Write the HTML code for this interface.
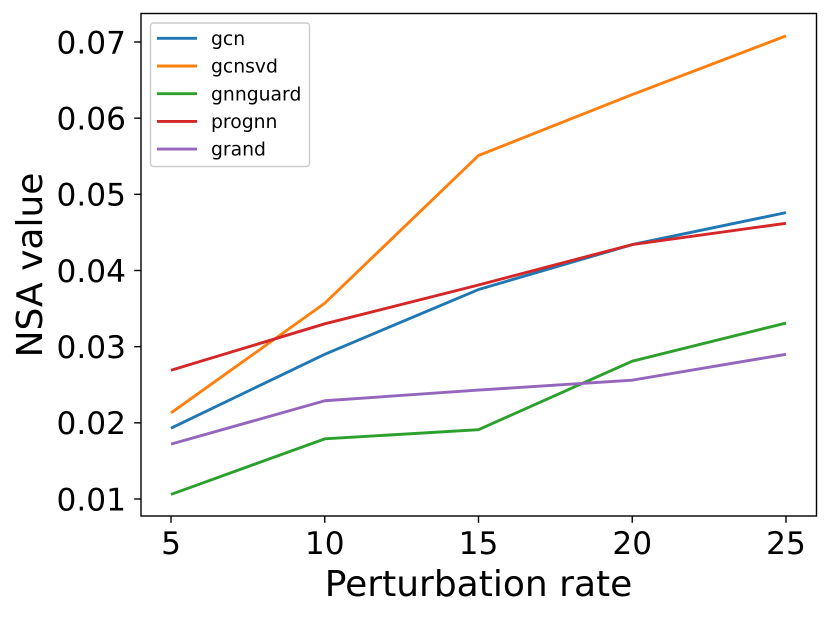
<!DOCTYPE html>
<html>
<head>
<meta charset="utf-8">
<style>
html,body{margin:0;padding:0;background:#fff;width:830px;height:617px;overflow:hidden}
svg{display:block}
text{font-family:"DejaVu Sans",sans-serif;fill:#000}
</style>
</head>
<body>
<svg id="chart" xmlns="http://www.w3.org/2000/svg" width="830" height="617" viewBox="0 0 830 617"></svg>
<script>
const rates = [5, 10, 15, 20, 25];
const gcn = [0.0193, 0.0290, 0.0375, 0.0434, 0.0476];
const gcnsvd = [0.0213, 0.0357, 0.0551, 0.0631, 0.0708];
const gnnguard = [0.0106, 0.0179, 0.0191, 0.0281, 0.0331];
const prognn = [0.0269, 0.0330, 0.0381, 0.0434, 0.0462];
const grand = [0.0172, 0.0229, 0.0243, 0.0256, 0.0290];
const seriesNames = ['gcn', 'gcnsvd', 'gnnguard', 'prognn', 'grand'];
const seriesValues = [gcn, gcnsvd, gnnguard, prognn, grand];
const seriesColors = ['#1f77b4', '#ff7f0e', '#2ca02c', '#d62728', '#9467bd'];
const xTicks = [5, 10, 15, 20, 25];
const yTicks = [0.01, 0.02, 0.03, 0.04, 0.05, 0.06, 0.07];

const svg = document.getElementById('chart');
const NS = 'http://www.w3.org/2000/svg';
const plot = { left: 141, right: 816.5, top: 13.5, bottom: 516 };
function xScale(v) { return 171 + (v - 5) * (786 - 171) / 20; }
function yScale(v) { return 499 - (v - 0.01) * (499 - 42) / 0.06; }
function make(tag, attrs, parent) {
  const el = document.createElementNS(NS, tag);
  for (const k in attrs) el.setAttribute(k, attrs[k]);
  (parent || svg).appendChild(el);
  return el;
}

seriesValues.forEach(function (vals, i) {
  const pts = vals.map(function (v, j) { return xScale(rates[j]).toFixed(2) + ',' + yScale(v).toFixed(2); }).join(' ');
  const line = make('polyline', { points: pts, fill: 'none', stroke: seriesColors[i], 'stroke-width': 2.9, 'stroke-linejoin': 'round', 'stroke-linecap': 'butt' });
  
  
});

const frame = make('rect', { x: plot.left, y: plot.top, width: plot.right - plot.left, height: plot.bottom - plot.top, fill: 'none', stroke: '#000', 'stroke-width': 1.4 });



xTicks.forEach(function (t) {
  const x = xScale(t);
  const mark = make('line', { x1: x, x2: x, y1: plot.bottom, y2: plot.bottom + 6.8, stroke: '#000', 'stroke-width': 1.4 });
  
  
  const label = make('text', { x: x, y: 554, 'text-anchor': 'middle', 'font-size': 31.2 });
  
  
  label.textContent = String(t);
});

yTicks.forEach(function (t) {
  const y = yScale(t);
  const mark = make('line', { x1: plot.left - 6.8, x2: plot.left, y1: y, y2: y, stroke: '#000', 'stroke-width': 1.4 });
  
  
  const label = make('text', { x: 126, y: y + 11.3, 'text-anchor': 'end', 'font-size': 31.2 });
  
  
  label.textContent = t.toFixed(2);
});

const xTitle = make('text', { x: 478.5, y: 596, 'text-anchor': 'middle', 'font-size': 36 });


xTitle.textContent = 'Perturbation rate';

const yTitle = make('text', { x: 0, y: 0, transform: 'translate(42,265) rotate(-90)', 'text-anchor': 'middle', 'font-size': 36 });


yTitle.textContent = 'NSA value';

const legend = make('g', {});


const legendBox = make('rect', { x: 150.5, y: 23, width: 159, height: 143.5, rx: 3, ry: 3, fill: '#fff', 'fill-opacity': 0.8, stroke: '#ccc', 'stroke-width': 1.4 }, legend);


seriesNames.forEach(function (name, i) {
  const y = 38.3 + i * 27.7;
  const key = make('line', { x1: 157, x2: 197, y1: y, y2: y, stroke: seriesColors[i], 'stroke-width': 2.9 }, legend);
  
  
  const label = make('text', { x: 211, y: y + 6.6, 'font-size': 18.8 }, legend);
  
  
  label.textContent = name;
});
</script>
</body>
</html>
